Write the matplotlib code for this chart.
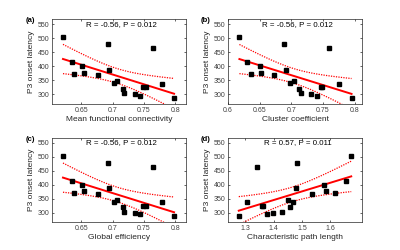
import numpy as np
import matplotlib.pyplot as plt

plt.rcParams['font.family'] = ['Liberation Sans', 'DejaVu Sans']

#---------data------------------------------#
# P3 onset latency, one value per subject (same order in every panel)
latency = [504, 479, 464, 415, 400, 371, 376, 368, 388, 339,
           347, 320, 304, 300, 295, 324, 324, 337, 287]

mean_fc = [0.621, 0.692, 0.765, 0.636, 0.652, 0.639, 0.655, 0.677, 0.694, 0.702,
           0.707, 0.717, 0.719, 0.736, 0.743, 0.749, 0.753, 0.778, 0.798]
cluster = [0.618, 0.689, 0.760, 0.630, 0.650, 0.636, 0.652, 0.673, 0.691, 0.698,
           0.704, 0.712, 0.716, 0.731, 0.740, 0.746, 0.749, 0.775, 0.795]
glob_eff = [0.621, 0.692, 0.765, 0.636, 0.652, 0.639, 0.655, 0.677, 0.694, 0.702,
            0.707, 0.717, 0.719, 0.736, 0.743, 0.749, 0.753, 0.778, 0.798]
path_len = [1.674, 1.484, 1.342, 1.657, 1.578, 1.615, 1.584, 1.535, 1.478, 1.467,
            1.450, 1.457, 1.430, 1.399, 1.377, 1.360, 1.364, 1.305, 1.277]

xdata = [mean_fc, cluster, glob_eff, path_len]
xlabels = ['Mean functional connectivity', 'Cluster coefficient',
           'Global efficiency', 'Characteristic path length']
letters = ['(a)', '(b)', '(c)', '(d)']
stats = ['R = -0.56, P = 0.012', 'R = -0.56, P = 0.012',
         'R = -0.56, P = 0.012', 'R = 0.57, P = 0.011']
xticks = [[0.65, 0.7, 0.75, 0.8], [0.6, 0.65, 0.7, 0.75, 0.8],
          [0.65, 0.7, 0.75, 0.8], [1.3, 1.4, 1.5, 1.6]]
yticks = [300, 350, 400, 450, 500, 550]

# axis settings
xlims = [(0.6035, 0.817), (0.600, 0.8115), (0.6035, 0.817), (1.239, 1.712)]
ylim = (266, 568)
pos = [[0.13, 0.585, 0.335, 0.339], [0.57, 0.585, 0.335, 0.339],
       [0.13, 0.111, 0.335, 0.338], [0.57, 0.111, 0.335, 0.338]]

t975 = 2.1098  # t quantile, 17 dof


def fit_band(x, y):
    x = np.asarray(x, float)
    y = np.asarray(y, float)
    n = len(x)
    b, a = np.polyfit(x, y, 1)
    xs = np.linspace(x.min(), x.max(), 120)
    yfit = a + b*xs
    res = y - (a + b*x)
    s = np.sqrt(np.sum(res**2)/(n-2))
    sxx = np.sum((x - x.mean())**2)
    half = t975*s*np.sqrt(1.0/n + (xs - x.mean())**2/sxx)
    return xs, yfit, half


fig = plt.figure(figsize=(4, 2.5), dpi=100)
dark = '#262626'
dots = (0, (1, 1))

for i in range(4):
    ax = fig.add_axes(pos[i])
    xs, yfit, half = fit_band(xdata[i], latency)
    ax.plot(xs, yfit, '-', color='red', lw=1.4)
    ax.plot(xs, yfit + half, linestyle=dots, color='red', lw=0.9)
    ax.plot(xs, yfit - half, linestyle=dots, color='red', lw=0.9)
    ax.plot(xdata[i], latency, 's', color='black', markersize=3, zorder=3)

    ax.set_xlim(*xlims[i])
    ax.set_ylim(*ylim)
    ax.set_xticks(xticks[i])
    ax.set_xticklabels([f'{v:g}' for v in xticks[i]])
    ax.set_yticks(yticks)
    ax.tick_params(direction='in', top=True, right=True, length=1.5, width=0.5,
                   labelsize=5, pad=2, colors=dark, labelcolor='#404040')
    for sp in ax.spines.values():
        sp.set_linewidth(0.5)
        sp.set_color(dark)

    ax.set_xlabel(xlabels[i], fontsize=6, color=dark, labelpad=1.5)
    ax.set_ylabel('P3 onset latency', fontsize=6, color=dark, labelpad=2)
    ax.text(0.52, 0.94, stats[i], transform=ax.transAxes, ha='center', va='center',
            fontsize=5.7, color='black')
    ax.text(-0.165, 0.985, letters[i], transform=ax.transAxes, ha='center', va='center',
            fontsize=5.5, fontweight='bold', color='black')

fig.savefig('out.png', dpi=100)
